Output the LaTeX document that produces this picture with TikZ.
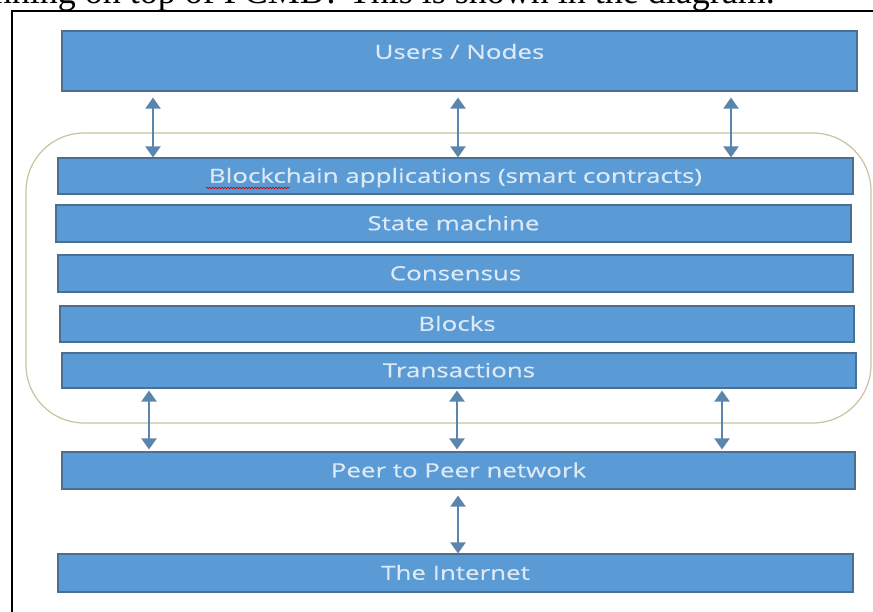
\documentclass[tikz,border=0pt]{standalone}
\usepackage{fontspec}
\setmainfont{Liberation Serif}
\newfontfamily\layerfont[FakeStretch=1.33,FakeBold=0.4]{Open Sans}
\usetikzlibrary{arrows.meta,decorations.pathmorphing}

\definecolor{layerfill}{HTML}{5B9BD5}
\definecolor{layerline}{HTML}{4A6F91}
\definecolor{layertext}{HTML}{DDE9F5}
\definecolor{linkcol}{HTML}{5A86AD}
\definecolor{stackline}{HTML}{C8C2A0}

\tikzset{
  layer/.style={draw=layerline, line width=1.1pt, fill=layerfill,
    text=layertext, font=\layerfont\fontsize{19.5}{22}\selectfont,
    inner sep=0pt, minimum width=795pt, text height=14pt, text depth=0.5pt},
  link/.style={draw=linkcol, line width=2pt,
    {Triangle[width=15pt,length=11pt]}-{Triangle[width=15pt,length=11pt]}},
  stackbox/.style={draw=stackline, line width=1.2pt, rounded corners=58pt,
    inner sep=0pt, minimum width=845pt, minimum height=290pt},
}

\begin{document}
\begin{tikzpicture}[x=1pt,y=-1pt]
\useasboundingbox (0,0) rectangle (873,612);

% running text of the page above the figure, cut by the page edge
\begin{scope}
  \clip (0,0) rectangle (873,612);
  \node[anchor=base east, inner sep=0pt, font=\fontsize{36}{40}\selectfont]
    (pagetext) at (775,4) {unning on top of PCMB? This is shown in the diagram.};
\end{scope}

% figure frame
\draw[line width=2pt] (12,612) -- (12,11) -- (873,11);

% rounded enclosure of the blockchain stack
\node[stackbox] (stack) at (448.5,278) {};

% layers
\node[layer, minimum height=60pt, text depth=18.4pt] (users) at (459.5,61) {Users / Nodes};
\node[layer, minimum height=36pt] (apps)   at (455.5,176)   {Blockchain applications (smart contracts)};
\node[layer, minimum height=37pt] (state)  at (453.5,223.5) {State machine};
\node[layer, minimum height=37pt] (cons)   at (455.5,273.5) {Consensus};
\node[layer, minimum height=36pt, minimum width=794pt] (blocks) at (457,324) {Blocks};
\node[layer, minimum height=35pt, minimum width=794pt] (tx)     at (459,370.5) {Transactions};
\node[layer, minimum height=37pt, minimum width=793pt] (p2p)    at (458.5,470.5) {Peer to Peer network};
\node[layer, minimum height=38pt] (inet)   at (455.5,573)   {The Internet};

% spell-check underline
\draw[red!85!black, line width=0.7pt, decorate,
  decoration={snake, amplitude=0.8pt, segment length=3pt}] (206,188) -- (290,188);

% arrow columns
\coordinate (a1) at (153,0);
\coordinate (a2) at (458,0);
\coordinate (a3) at (731,0);
\coordinate (b1) at (149,0);
\coordinate (b2) at (457,0);
\coordinate (b3) at (722,0);
\coordinate (c1) at (458,0);

\draw[link, shorten <=6pt] (users.south -| a1) -- (apps.north -| a1);
\draw[link, shorten <=6pt] (users.south -| a2) -- (apps.north -| a2);
\draw[link, shorten <=6pt] (users.south -| a3) -- (apps.north -| a3);

\draw[link, shorten <=2pt, shorten >=2pt] (tx.south -| b1) -- (p2p.north -| b1);
\draw[link, shorten <=2pt, shorten >=2pt] (tx.south -| b2) -- (p2p.north -| b2);
\draw[link, shorten <=2pt, shorten >=2pt] (tx.south -| b3) -- (p2p.north -| b3);

\draw[link, shorten <=6pt] (p2p.south -| c1) -- (inet.north -| c1);
\end{tikzpicture}
\end{document}
